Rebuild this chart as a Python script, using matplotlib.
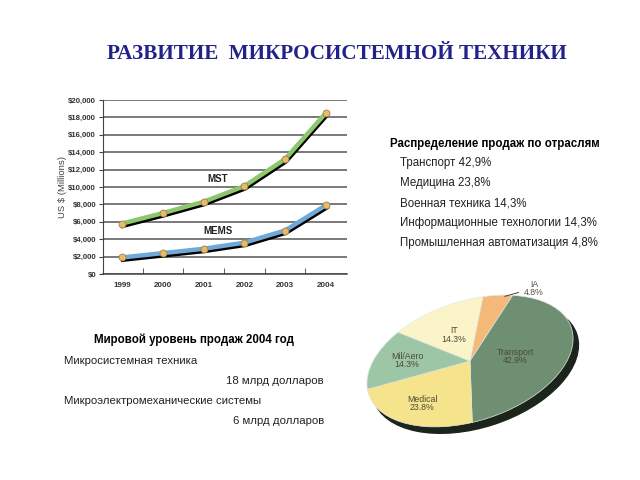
import matplotlib
matplotlib.use("Agg")
import matplotlib.pyplot as plt
import matplotlib.patheffects as pe
from matplotlib.patches import Ellipse
from matplotlib.transforms import Affine2D
import numpy as np

# line chart data
years = ["1999", "2000", "2001", "2002", "2003", "2004"]
mst = [5800, 7000, 8300, 10100, 13200, 18500]
mems = [1900, 2400, 2900, 3600, 5000, 7900]
y_ticks = [0, 2000, 4000, 6000, 8000, 10000, 12000, 14000, 16000, 18000, 20000]

# pie data (clockwise, starting at IA)
pie_names = ["IA", "Transport", "Medical", "Mil/Aero", "IT"]
pie_vals = [4.8, 42.9, 23.8, 14.3, 14.3]
pie_cols = ["#f4b878", "#6f8f73", "#f6e48c", "#9dc6a6", "#fbf4c8"]

# texts
title = "РАЗВИТИЕ  МИКРОСИСТЕМНОЙ ТЕХНИКИ"
dist_head = "Распределение продаж по отраслям"
dist_items = ["Транспорт 42,9%", "Медицина 23,8%", "Военная техника 14,3%",
              "Информационные технологии 14,3%", "Промышленная автоматизация 4,8%"]
world_head = "Мировой уровень продаж 2004 год"
world_items = [("Микросистемная техника", "18 млрд долларов"),
               ("Микроэлектромеханические системы", "6 млрд долларов")]

plt.rcParams['font.family'] = ['Liberation Sans', 'DejaVu Sans']

fig = plt.figure(figsize=(6.4, 4.8), dpi=100)
fig.patch.set_facecolor("white")

fig.text(337/640, 1 - 54/480, title, ha="center", va="center",
         family="Liberation Serif", weight="bold", fontsize=15.2, color="#22228a")

# ---- line chart ----
ax = fig.add_axes([103/640, 206/480, 244/640, 174/480])
x = np.arange(len(years))
for ys, col in [(mst, "#8cc66d"), (mems, "#70a8d8")]:
    ax.plot(x, ys, color=col, lw=3.2, zorder=3,
            path_effects=[pe.SimpleLineShadow(offset=(0.6, -1.6), shadow_color="black", alpha=1),
                          pe.Normal()])
    ax.plot(x, ys, "o", ms=5, mfc="#e8bb68", mec="#a0804a", mew=0.6, zorder=4)
ax.set_xlim(-0.47, 5.52)
ax.set_ylim(0, 20000)
ax.set_yticks(y_ticks)
ax.set_yticklabels(["${:,}".format(v) for v in y_ticks], fontsize=5.6, weight="bold",
                   color="#333333")
ax.set_xticks(x)
ax.set_xticklabels(years, fontsize=5.8, weight="bold", color="#333333")
ax.set_xticks(x[:-1] + 0.5, minor=True)
ax.tick_params(axis="x", which="major", length=0, pad=6)
ax.tick_params(axis="x", which="minor", length=4, direction="in", color="#444444")
ax.tick_params(axis="y", length=3, color="#444444", pad=2)
ax.grid(axis="y", color="#555555", lw=1.1)
ax.set_axisbelow(True)
for s in ["top", "right"]:
    ax.spines[s].set_visible(False)
ax.spines["left"].set_color("#444444")
ax.spines["bottom"].set_color("#444444")
ax.spines["bottom"].set_linewidth(1.1)
ax.set_ylabel("US $ (Millions)", fontsize=6.8, color="#444444")
ax.yaxis.set_label_coords(-36/244, 0.5)
ax.text(2.35, 10900, "MST", fontsize=7, weight="bold", ha="center", va="center",
        color="#222222")
ax.text(2.35, 4900, "MEMS", fontsize=7, weight="bold", ha="center", va="center",
        color="#222222")

# ---- right-hand texts ----
fig.text(390/640, 1 - 144/480, dist_head, fontsize=8.3, weight="bold", va="center")
for i, t in enumerate(dist_items):
    fig.text(400/640, 1 - (163 + 20*i)/480, t, fontsize=8.3, va="center", color="#222222")

# ---- bottom-left texts ----
fig.text(194/640, 1 - 340/480, world_head, fontsize=8.3, weight="bold", ha="center",
         va="center")
for i, (name, val) in enumerate(world_items):
    fig.text(64/640, 1 - (361 + 40*i)/480, name, fontsize=8.2, va="center", color="#222222")
    fig.text(324/640, 1 - (381 + 40*i)/480, val, fontsize=8.2, va="center", ha="right",
             color="#222222")

# ---- pie ----
pax = fig.add_axes([342/640, 19/480, 256/640, 228/480])
tilt = Affine2D().scale(1, 0.56).rotate_deg(18)
shadow = Ellipse((0, 0), 2, 2, color="#1c251c", zorder=1,
                 transform=tilt + Affine2D().translate(0.05, -0.06) + pax.transData)
pax.add_patch(shadow)
wedges, _ = pax.pie(pie_vals, colors=pie_cols, startangle=72.5, counterclock=False,
                    wedgeprops=dict(edgecolor="#e8e8e0", lw=0.5))
pax.set_aspect("auto")
pax.set_xlim(-1.2, 1.2)
pax.set_ylim(-100/107, 128/107)
pax.axis("off")
for w in wedges:
    w.set_transform(tilt + pax.transData)
    w.set_zorder(2)

label_r = [0.95, 0.45, 0.7, 0.65, 0.5]
edges = 72.5 - np.cumsum([0] + pie_vals) * 3.6
for i, (name, v) in enumerate(zip(pie_names, pie_vals)):
    mid = np.radians((edges[i] + edges[i+1]) / 2)
    px, py = tilt.transform((label_r[i]*np.cos(mid), label_r[i]*np.sin(mid)))
    lab = "%s\n%.1f%%" % (name, v)
    if name == "IA":
        pax.annotate(lab, xy=(px, py), xytext=(0.6, 0.68), fontsize=6.3, ha="center",
                     va="center", color="#555544", linespacing=0.9,
                     arrowprops=dict(arrowstyle="-", color="#444444", lw=0.7,
                                     shrinkB=6))
    else:
        pax.text(px, py, lab, fontsize=6.3, ha="center", va="center", color="#4a4a3a",
                 linespacing=0.9, zorder=5)

fig.savefig("out.png", dpi=100)
